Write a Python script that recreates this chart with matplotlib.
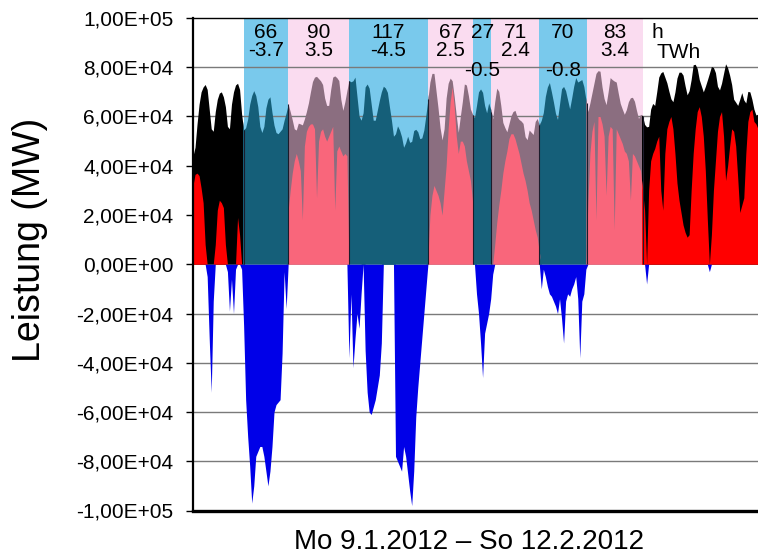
import numpy as np
import matplotlib
matplotlib.use("Agg")
import matplotlib.pyplot as plt
from matplotlib.patches import Rectangle

plt.rcParams['font.family'] = ['Liberation Sans', 'DejaVu Sans']

# Hourly series sampled every 3 h, Mo 9.1.2012 00:00 .. So 12.2.2012 (GW)
STEP_H = 3
TOTAL_H = 840

load_gw = [
    44, 47.5, 57, 65, 70, 72, 73, 71, 63, 55,
    54, 62, 67, 69.5, 70, 68, 64, 56, 55, 65,
    70, 72.8, 73.5, 71, 61, 54.5, 55.5, 59, 65, 68.5,
    70.5, 68.5, 64, 56, 53.5, 56, 63.5, 67, 68, 61.7,
    56.5, 53.5, 53, 54, 55, 58.5, 61.5, 65, 62, 58.7,
    55, 54.5, 57.3, 57, 56.6, 59, 62, 65.5, 70, 74.2,
    76, 76.3, 75.4, 74.5, 73, 67.5, 64.5, 64.5, 71, 76,
    76.5, 75.8, 74.6, 67, 62.5, 66, 70.5, 74.6, 74.1, 74.5,
    76, 68, 60.2, 58.5, 61.5, 72, 73.2, 71.5, 65, 58.5,
    58.5, 62.5, 66.5, 70, 72.3, 71.6, 69.8, 64, 58.5, 52,
    53, 56.2, 54.5, 51.8, 47.5, 49.3, 52, 49.5, 49.9, 54.3,
    54.8, 53.8, 51, 51.3, 54.5, 60.5, 67, 74, 77.5, 77.5,
    70.5, 63.5, 55.5, 50.5, 55, 67.5, 73.5, 75.6, 74.5, 68,
    60.5, 53.6, 60, 66, 73.2, 72.8, 68.5, 63, 61, 59.5,
    64.5, 70, 71.2, 69.8, 64.5, 61.5, 65.5, 63, 59, 66,
    71.5, 70.2, 64.5, 57.6, 55.5, 53.8, 57, 60.2, 62, 62.5,
    60, 58.8, 58.2, 57.2, 51.8, 50.6, 54.5, 53.6, 52.7, 58,
    59.2, 56.5, 58.5, 61.6, 68.2, 72, 73.8, 70, 65.9, 61.3,
    58.8, 65, 71.3, 72.2, 70.5, 66.8, 63.1, 67.5, 72.3, 75.8,
    74, 74.5, 75, 72.2, 67, 62, 65.5, 69.5, 73.5, 77.5,
    78.6, 78.4, 72, 67.3, 64.8, 70, 75.8, 75, 74.4, 74,
    69.5, 65.3, 63, 60.9, 62.8, 66, 67.6, 67.8, 66.2, 62.5,
    59.2, 60.9, 60.3, 56.8, 55.8, 56, 63, 65.3, 64.5, 70,
    76, 77.7, 78.3, 76, 73.7, 70.3, 67.2, 66, 70, 75.6,
    78, 78, 76.8, 72.5, 68.8, 70.5, 75, 81, 81.2, 79.5,
    75, 72.5, 70, 72.2, 74.8, 77.5, 80.3, 79.9, 77.8, 72.3,
    70.8, 73.5, 77.5, 81.4, 79.8, 76.8, 73, 67, 65.8, 64.5,
    67, 69.7, 66.7, 65.5, 70.2, 70, 67, 63, 60.6, 61,
]

residual_gw = [
    32, 36.5, 37, 36, 31, 25, 8, -5, -30, -52,
    -15, 8, 22, 26, 25, 23, 8, -3, -19, -6,
    -20, -2, 19, 12, -2, -25, -55, -70, -82, -97,
    -90, -78, -76, -74, -74, -78, -84, -90, -84, -74,
    -60, -57, -56, -55, -36, -3, -18, 22, 30, 37,
    42, 45, 42, 38, 18, 48, 54, 56, 57, 57,
    55, 27, 50, 54, 55, 52, 50, 52, 54, 56,
    22, 46, 48, 46, 44, 45, 44, -38, -12, -42,
    -30, -20, -26, -12, 4, -35, -52, -60, -61, -58,
    -55, -50, -45, -32, 2, 6, 8, 7, 5, 2,
    -78, -80, -82, -84, -74, -78, -85, -92, -98, -84,
    -62, -50, -40, -30, -20, -10, 2, 20, 28, 32,
    30, 28, 25, 20, 30, 40, 55, 66, 72, 64,
    52, 45, 50, 50, 48, 42, 38, 34, 26, 6,
    -12, -20, -32, -46, -28, -24, -20, -14, -4, 8,
    17, 24, 30, 37, 42, 46, 51, 53, 53, 51,
    48, 45, 41, 37, 34, 30, 25, 22, 18, 14,
    11, 5, -10, -2, -5, -9, -12, -13, -15, -17,
    -20, -14, -22, -32, -15, -12, -13, -10, -8, -5,
    -14, -38, -15, -12, -2, 25, 45, 54, 58, 18,
    60, 60, 57, 52, 28, 52, 56, 55, 14, 55,
    53, 51, 49, 46, 45, 42, 26, 45, 44, 42,
    40, 38, 30, 22, -8, 30, 42, 45, 47, 50,
    52, 30, 22, 45, 55, 58, 60, 55, 45, 33,
    26, 21, 16, 13, 11, 12, 30, 45, 55, 62,
    64, 60, 52, 38, 18, -3, 12, 30, 42, 54,
    60, 62, 52, 34, 40, 48, 55, 54, 48, 35,
    21, 24, 27, 45, 58, 62, 63, 58, 57, 55,
]

# Periods of surplus (neg) and deficit (pos): duration in h and energy in TWh
period_start_h = 75
period_hours = [66, 90, 117, 67, 27, 71, 70, 83]
period_twh = ["-3.7", "3.5", "-4.5", "2.5", "-0.5", "2.4", "-0.8", "3.4"]
period_kind = ["neg", "pos", "neg", "pos", "neg", "pos", "neg", "pos"]
twh_lower_row = [False, False, False, False, True, False, True, False]

band_color = {"neg": "#79c9ec", "pos": "#fadcf0"}
load_color = {"none": "#000000", "neg": "#155f79", "pos": "#8b6e80"}
surplus_fill = {"none": "#ff0000", "neg": "#155f79", "pos": "#f9667b"}
deficit_color = "#0000e8"

hours = np.arange(len(load_gw)) * STEP_H
load = np.array(load_gw) * 1000.0
res = np.array(residual_gw) * 1000.0
res_pos = np.clip(res, 0, None)
res_neg = np.clip(res, None, 0)

edges = period_start_h + np.concatenate([[0], np.cumsum(period_hours)])
segments = [(0, edges[0], "none")]
for k, kind in enumerate(period_kind):
    segments.append((edges[k], edges[k + 1], kind))
segments.append((edges[-1], TOTAL_H, "none"))

fig = plt.figure(figsize=(7.58, 5.57), dpi=100)
ax = fig.add_axes([193 / 758, 46.5 / 557, 567 / 758, 492.5 / 557])
ax.set_xlim(0, TOTAL_H)
ax.set_ylim(-1e5, 1e5)

# background bands above zero
for x0, x1, kind in segments:
    if kind != "none":
        ax.fill_between([x0, x1], 0, 1e5, color=band_color[kind], lw=0, zorder=0.5)

# horizontal grid
yticks = np.arange(-1e5, 1.0001e5, 2e4)
for v in yticks:
    if abs(v) > 1 and abs(v) < 0.99e5:
        ax.axhline(v, color="#7a7a7a", lw=1.0, zorder=1)

# area series, coloured per period
for x0, x1, kind in segments:
    clip = Rectangle((x0 - 0.4, -2e5), (x1 - x0) + 0.8, 4e5, transform=ax.transData)
    f1 = ax.fill_between(hours, 0, load, color=load_color[kind], lw=0, zorder=2)
    f1.set_clip_path(clip)
    f2 = ax.fill_between(hours, 0, res_pos, color=surplus_fill[kind], lw=0, zorder=3)
    f2.set_clip_path(clip)
ax.fill_between(hours, 0, res_neg, color=deficit_color, lw=0, zorder=3)

# thin separators at period boundaries
for b in edges:
    ax.vlines(b, 0, np.interp(b, hours, load), color="#1c1c2c", lw=0.8, zorder=4)

# period annotations
for k in range(len(period_hours)):
    xc = 0.5 * (edges[k] + edges[k + 1])
    ax.text(xc, 9.42e4, str(period_hours[k]), ha="center", va="center",
            fontsize=15, zorder=6)
    ax.text(xc, 7.85e4 if twh_lower_row[k] else 8.68e4, period_twh[k],
            ha="center", va="center", fontsize=15, zorder=6)
ax.text(edges[-1] + 13, 9.42e4, "h", ha="left", va="center", fontsize=15, zorder=6)
ax.text(edges[-1] + 21, 8.6e4, "TWh", ha="left", va="center", fontsize=15, zorder=6)

# axes styling
ax.set_yticks(yticks)
ax.set_yticklabels([f"{v:.2E}".replace(".", ",") for v in yticks], fontsize=15)
ax.set_xticks([])
ax.tick_params(axis="y", length=5, width=1, pad=9, direction="out")
ax.spines["right"].set_visible(False)
ax.spines["top"].set_linewidth(1.0)
ax.spines["left"].set_linewidth(1.6)
ax.spines["bottom"].set_linewidth(2.4)
for s in ax.spines.values():
    s.set_zorder(7)

fig.text(30 / 758, 1 - 240 / 557, "Leistung (MW)", rotation=90, fontsize=27,
         ha="center", va="center")
fig.text(469 / 758, 1 - 542 / 557, "Mo 9.1.2012 \u2013 So 12.2.2012", fontsize=20,
         ha="center", va="center")

fig.savefig("out.png", dpi=100)
